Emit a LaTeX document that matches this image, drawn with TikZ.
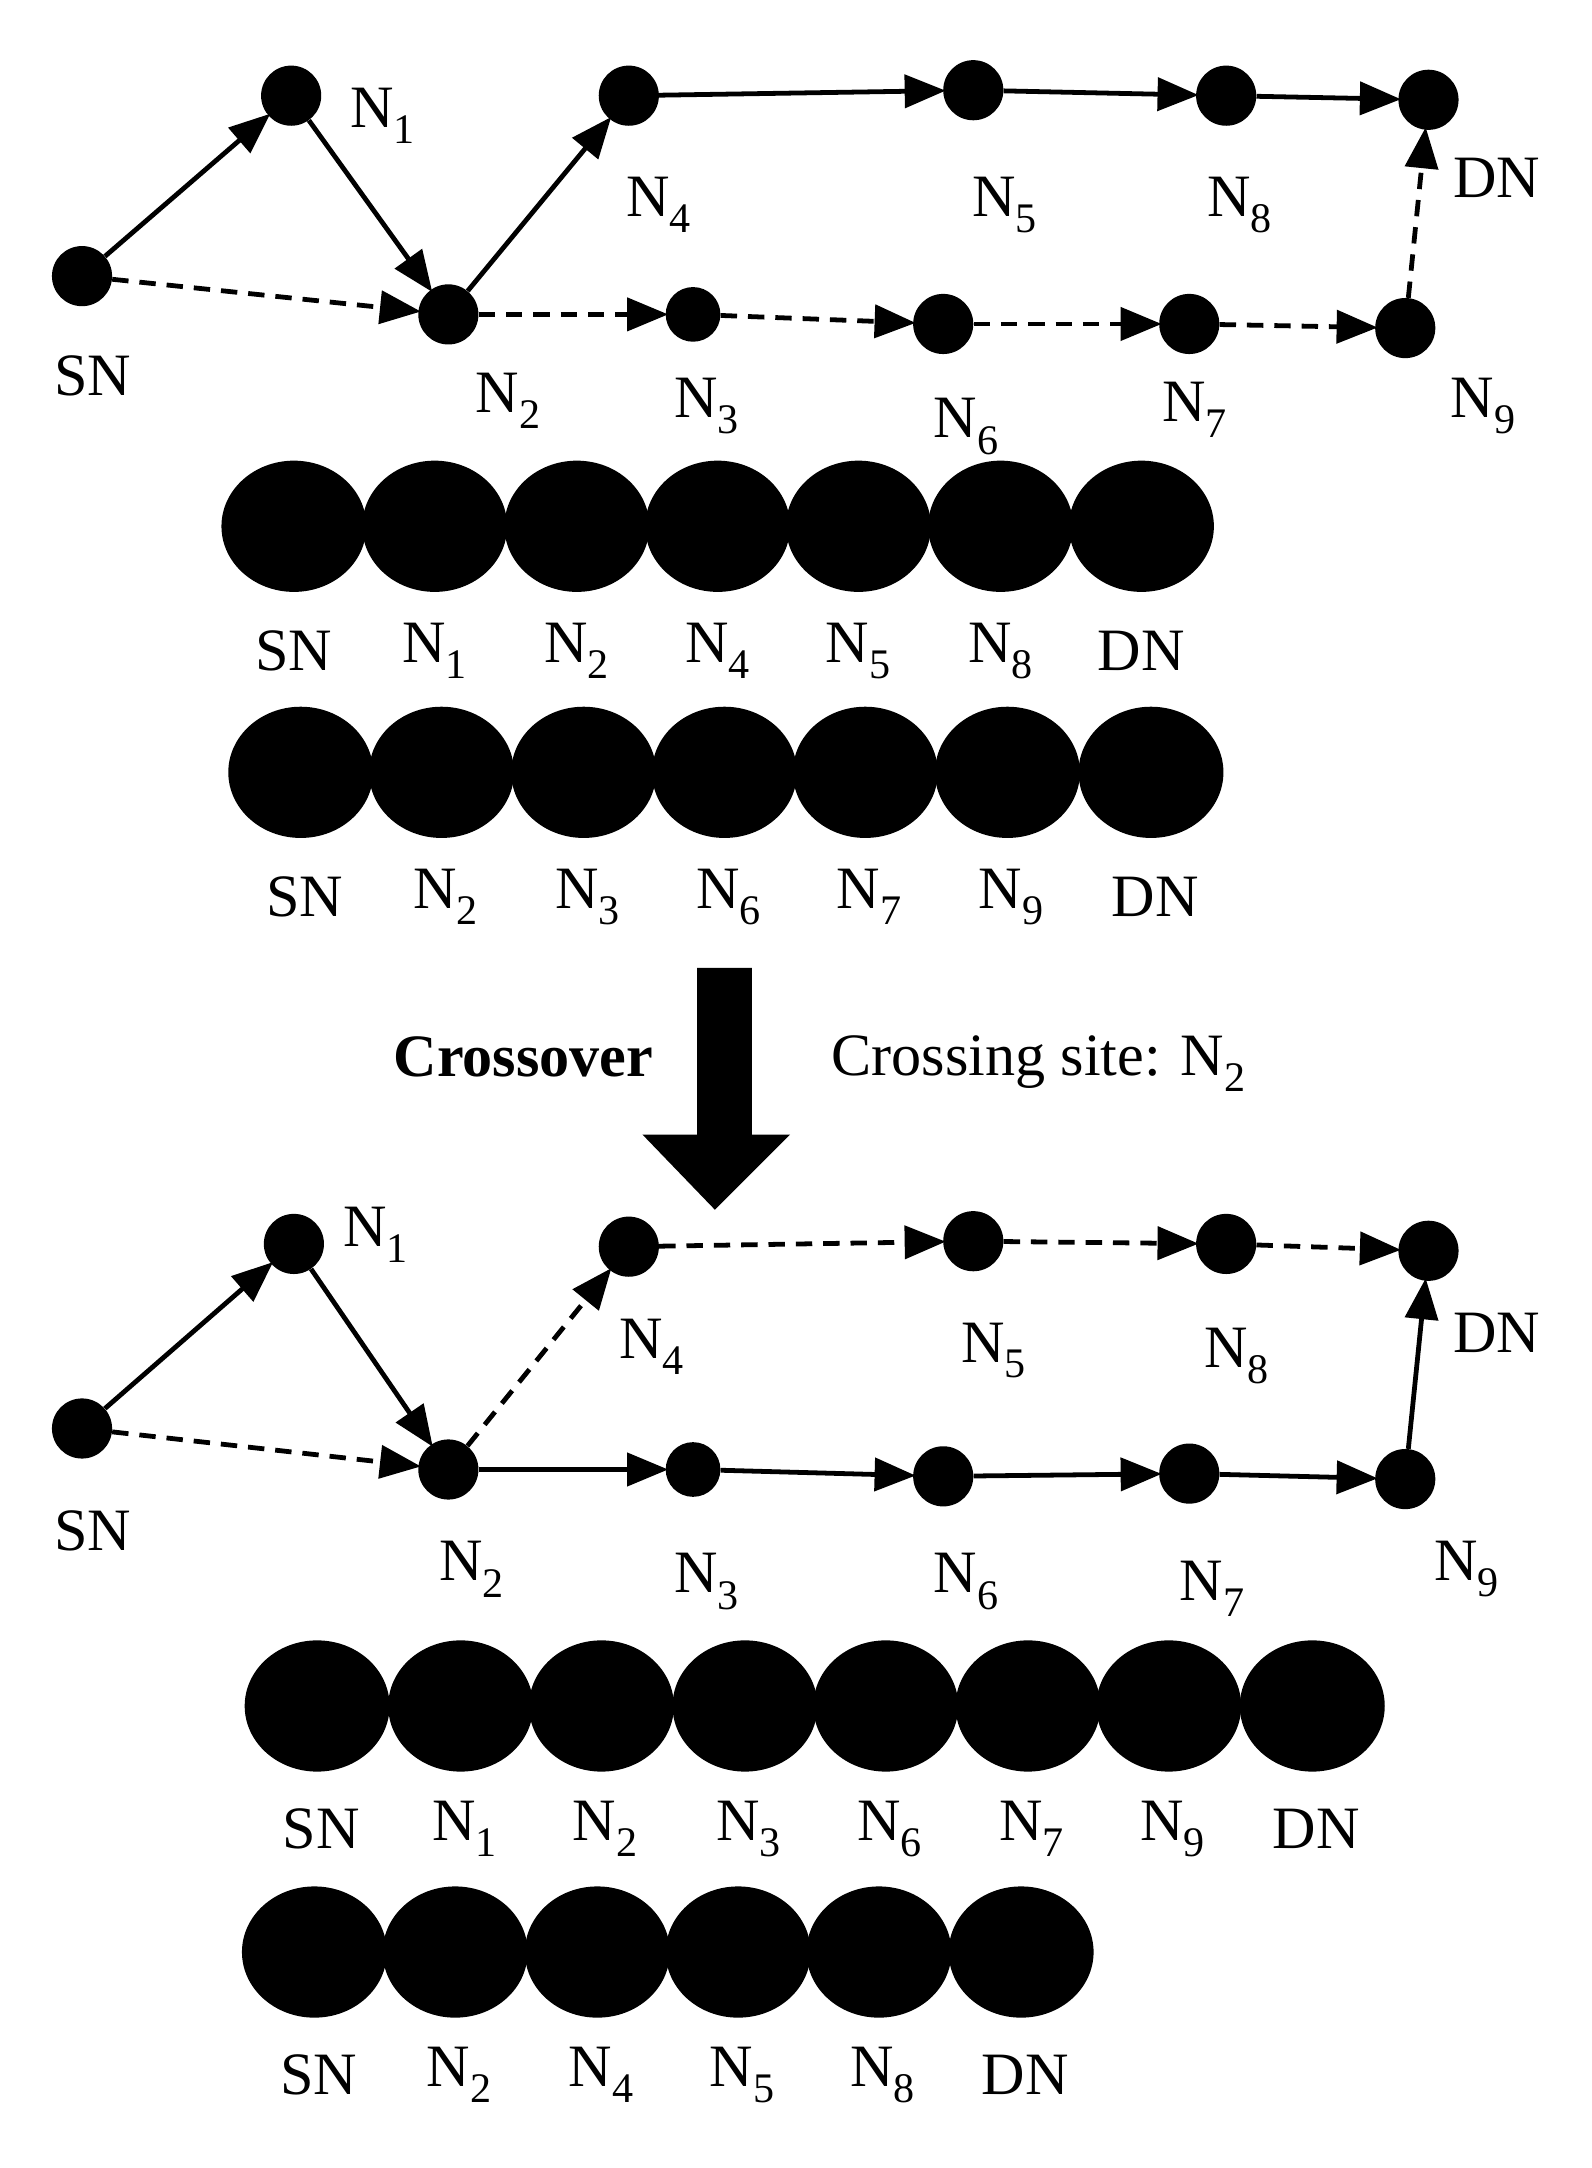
\documentclass[tikz,border=0pt]{standalone}
\usepackage{fontspec}
\setmainfont{Liberation Serif}
\usetikzlibrary{arrows.meta,shapes.geometric}
\begin{document}
\begin{tikzpicture}[x=1pt,y=-1pt,
  dot/.style={circle,fill=black,inner sep=0pt,minimum size=44pt},
  big/.style={ellipse,fill=black,inner sep=0pt,minimum width=106pt,minimum height=96pt},
  lab/.style={font=\fontsize{44}{48}\selectfont,inner sep=0pt},
  ar/.style={line width=3.5pt,-{Triangle[length=30pt,width=24pt]},shorten >=-2pt},
  da/.style={ar,dash pattern=on 12pt off 8pt}]
\useasboundingbox (0,0) rectangle (1164,1586);
\fill[white] (0,0) rectangle (1164,1586);
% top graph
\node[dot] (sn) at (60,202) {};
\node[dot] (n1) at (213,70) {};
\node[dot] (n2) at (328,230) {};
\node[dot] (n4) at (460,70) {};
\node[dot] (n5) at (712,66) {};
\node[dot] (n8) at (897,70) {};
\node[dot] (dn) at (1045,73) {};
\node[dot,minimum size=40pt] (n3) at (507,230) {};
\node[dot] (n6) at (690,237) {};
\node[dot] (n7) at (870,237) {};
\node[dot] (n9) at (1028,240) {};
\node[lab] (lsn) at (68,275) {SN};
\node[lab] (ln1) at (280,85) {N\textsubscript{1}};
\node[lab] (ln2) at (372,293) {N\textsubscript{2}};
\node[lab] (ln4) at (482,150) {N\textsubscript{4}};
\node[lab] (ln5) at (735,150) {N\textsubscript{5}};
\node[lab] (ln8) at (907,150) {N\textsubscript{8}};
\node[lab] (ldn) at (1095,130) {DN};
\node[lab] (ln3) at (517,297) {N\textsubscript{3}};
\node[lab] (ln6) at (707,312) {N\textsubscript{6}};
\node[lab] (ln7) at (874,300) {N\textsubscript{7}};
\node[lab] (ln9) at (1085,297) {N\textsubscript{9}};
\draw[ar] (sn) -- (n1); \draw[ar] (n1) -- (n2); \draw[da] (sn) -- (n2);
\draw[ar] (n2) -- (n4); \draw[ar] (n4) -- (n5); \draw[ar] (n5) -- (n8); \draw[ar] (n8) -- (dn);
\draw[da] (n2) -- (n3); \draw[da] (n3) -- (n6); \draw[da] (n6) -- (n7); \draw[da] (n7) -- (n9); \draw[da] (n9) -- (dn);
% row 1
\foreach \x/\t [count=\i] in {215/SN,318/N\textsubscript{1},422/N\textsubscript{2},525/N\textsubscript{4},628/N\textsubscript{5},732/N\textsubscript{8},835/DN}{
  \node[big] (ra\i) at (\x,385) {};
  \node[lab] (la\i) at (\x,476) {\t};}
% row 2
\foreach \x/\t [count=\i] in {220/SN,323/N\textsubscript{2},427/N\textsubscript{3},530/N\textsubscript{6},633/N\textsubscript{7},737/N\textsubscript{9},842/DN}{
  \node[big] (rb\i) at (\x,565) {};
  \node[lab] (lb\i) at (\x+3,656) {\t};}
% big arrow
\fill (510,708) -- (550,708) -- (550,830) -- (578,830) -- (523,885) -- (470,830) -- (510,830) -- cycle;
\node[lab,font=\fontsize{44}{48}\selectfont\bfseries] (cro) at (383,773) {Crossover};
\node[lab] (cs) at (760,778) {Crossing site: N\textsubscript{2}};
% bottom graph
\node[dot] (bsn) at (60,1045) {};
\node[dot] (bn1) at (215,910) {};
\node[dot] (bn2) at (328,1075) {};
\node[dot] (bn4) at (460,912) {};
\node[dot] (bn5) at (712,908) {};
\node[dot] (bn8) at (897,910) {};
\node[dot] (bdn) at (1045,915) {};
\node[dot,minimum size=40pt] (bn3) at (507,1075) {};
\node[dot] (bn6) at (690,1080) {};
\node[dot] (bn7) at (870,1078) {};
\node[dot] (bn9) at (1028,1082) {};
\node[lab] (blsn) at (68,1120) {SN};
\node[lab] (bln1) at (275,903) {N\textsubscript{1}};
\node[lab] (bln2) at (345,1148) {N\textsubscript{2}};
\node[lab] (bln4) at (477,985) {N\textsubscript{4}};
\node[lab] (bln5) at (727,988) {N\textsubscript{5}};
\node[lab] (bln8) at (905,992) {N\textsubscript{8}};
\node[lab] (bldn) at (1095,975) {DN};
\node[lab] (bln3) at (517,1157) {N\textsubscript{3}};
\node[lab] (bln6) at (707,1157) {N\textsubscript{6}};
\node[lab] (bln7) at (887,1162) {N\textsubscript{7}};
\node[lab] (bln9) at (1073,1148) {N\textsubscript{9}};
\draw[ar] (bsn) -- (bn1); \draw[ar] (bn1) -- (bn2); \draw[da] (bsn) -- (bn2);
\draw[da] (bn2) -- (bn4); \draw[da] (bn4) -- (bn5); \draw[da] (bn5) -- (bn8); \draw[da] (bn8) -- (bdn);
\draw[ar] (bn2) -- (bn3); \draw[ar] (bn3) -- (bn6); \draw[ar] (bn6) -- (bn7); \draw[ar] (bn7) -- (bn9); \draw[ar] (bn9) -- (bdn);
% row 3
\foreach \x/\t [count=\i] in {232/SN,337/N\textsubscript{1},440/N\textsubscript{2},545/N\textsubscript{3},648/N\textsubscript{6},752/N\textsubscript{7},855/N\textsubscript{9},960/DN}{
  \node[big] (rc\i) at (\x,1248) {};
  \node[lab] (lc\i) at (\x+3,1338) {\t};}
% row 4
\foreach \x/\t [count=\i] in {230/SN,333/N\textsubscript{2},437/N\textsubscript{4},540/N\textsubscript{5},643/N\textsubscript{8},747/DN}{
  \node[big] (rd\i) at (\x,1428) {};
  \node[lab] (ld\i) at (\x+3,1518) {\t};}
\end{tikzpicture}
\end{document}
